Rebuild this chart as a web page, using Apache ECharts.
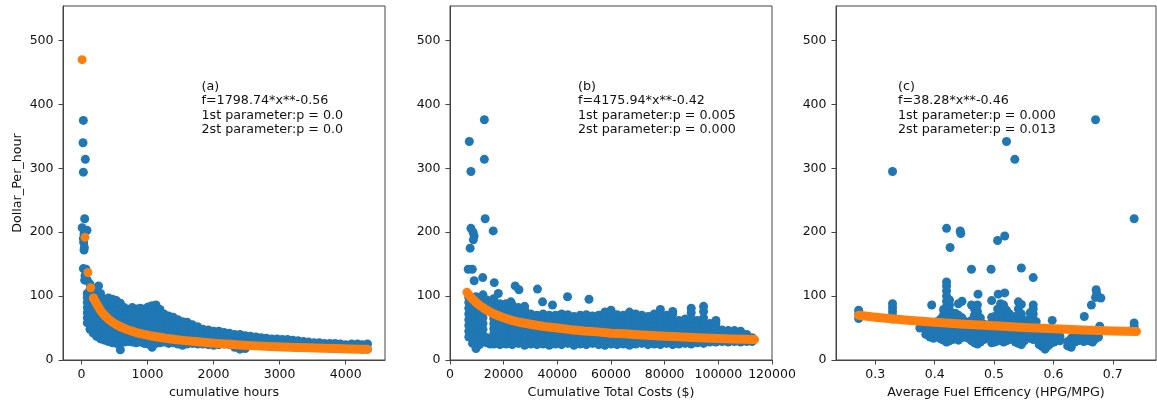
<!DOCTYPE html>
<html>
<head>
<meta charset="utf-8">
<script src="https://cdn.jsdelivr.net/npm/echarts/dist/echarts.min.js"></script>
<style>
html,body{margin:0;padding:0;background:#fff;}
#main{width:1157px;height:406px;}
</style>
</head>
<body>
<div id="main"></div>
<script>
// ---- data ----
var yTicks = [0, 100, 200, 300, 400, 500];
var hoursTicks = [0, 1000, 2000, 3000, 4000];
var costTicks = [0, 20000, 40000, 60000, 80000, 100000, 120000];
var fuelTicks = [0.3, 0.4, 0.5, 0.6, 0.7];

var panelNames = ['cumulative hours', 'Cumulative Total Costs ($)', 'Average Fuel Efficency (HPG/MPG)'];
var yName = 'Dollar_Per_hour';

var notesA = ['(a)', 'f=1798.74*x**-0.56', '1st parameter:p = 0.0', '2st parameter:p = 0.0'];
var notesB = ['(b)', 'f=4175.94*x**-0.42', '1st parameter:p = 0.005', '2st parameter:p = 0.000'];
var notesC = ['(c)', 'f=38.28*x**-0.46', '1st parameter:p = 0.000', '2st parameter:p = 0.013'];

// panel (a): cumulative hours vs dollar per hour
var hoursOutliers = [[30,375],[25,340],[60,314],[30,294],[50,221],[12,207],[85,203],[40,197],[30,190],[35,184],
  [45,176],[40,172],[30,143],[70,142],[55,132],[50,125],[90,125],[130,119],[260,116]];
// [x, [y values in that column]]
var hoursCols = [
  [90,[58,66,74,82,90,98,104]],
  [130,[48,56,64,72,80,88,96,104,110]],
  [180,[42,50,58,66,74,82,90,98,106,112]],
  [230,[37,45,53,61,69,77,85,93,101,108]],
  [290,[33,41,49,57,65,73,81,89,97,104]],
  [350,[31,39,47,55,63,71,79,87,95]],
  [410,[29,37,45,53,61,69,77,85,93,97]],
  [470,[27,35,43,51,59,67,75,83,91,95]],
  [530,[26,34,42,50,58,66,74,82,90,93]],
  [590,[16,27,35,43,51,59,67,75,83,89]],
  [650,[28,36,44,52,60,68,76,82]],
  [710,[29,37,45,53,61,69,76,79]],
  [770,[28,36,44,52,60,68,76,82]],
  [830,[27,35,43,51,59,67,75,80]],
  [890,[28,36,44,52,60,68,75,81]],
  [950,[26,34,42,50,58,66,74,80]],
  [1010,[25,33,41,49,57,65,73,80,83]],
  [1070,[20,29,37,45,53,61,69,77,85]],
  [1130,[26,34,42,50,58,66,74,81,86]],
  [1190,[27,35,43,51,59,67,74,79]],
  [1250,[28,36,44,52,60,67,72]],
  [1320,[26,34,42,50,58,64,69]],
  [1390,[27,35,43,51,58,64,67]],
  [1460,[25,33,41,49,56,63]],
  [1530,[23,31,39,47,54,60]],
  [1600,[25,33,41,49,55,59]],
  [1680,[26,34,42,49,55]],
  [1760,[25,33,41,47,52]],
  [1840,[25,33,41,48]],
  [1920,[24,32,40,47]],
  [2000,[23,31,38,45]],
  [2080,[24,32,39,45]],
  [2160,[25,33,40,43]],
  [2240,[24,32,38,42]],
  [2320,[20,28,35,40]],
  [2400,[17,25,33,40]],
  [2480,[18,26,33,38]],
  [2560,[25,32,37]],
  [2640,[24,31,36]],
  [2720,[24,30,35]],
  [2800,[23,29,34]],
  [2880,[23,29,33]],
  [2960,[22,28,33]],
  [3040,[22,28,32]],
  [3120,[22,27,32]],
  [3200,[21,26,31]],
  [3280,[21,26,30]],
  [3360,[21,25,29]],
  [3440,[20,25,28]],
  [3520,[20,24,27]],
  [3600,[20,24,27]],
  [3680,[20,24,26]],
  [3760,[19,23,26]],
  [3840,[19,23,26]],
  [3920,[19,25]],
  [4000,[18,24]],
  [4090,[18,25]],
  [4180,[18,25]],
  [4250,[17,24]],
  [4330,[17,25]]
];
var hoursFitDots = [[11,470],[54,192],[99,137],[141,113],[184,97]];
var hoursFitLine = [[184,97],[220,90],[260,83],[300,76],[350,70],[400,65],[460,60],[520,56],[590,52],[660,49],
  [740,46],[830,43],[930,40.5],[1040,38],[1160,36],[1280,34],[1420,32],[1570,30.3],[1720,28.8],[1880,27.3],
  [2050,26],[2250,24.6],[2450,23.2],[2650,22.1],[2850,21.1],[3050,20.3],[3250,19.6],[3450,19],[3650,18.4],
  [3850,17.9],[4050,17.4],[4250,16.9],[4330,16.7]];

// panel (b): cumulative total costs vs dollar per hour
var costOutliers = [[7200,342],[12800,376],[12800,314],[7800,295],[13100,221],[16100,202],[7800,206],[8600,200],
  [9000,194],[8700,188],[7500,175],[6800,142],[8300,142],[12200,129],[9000,124],[16500,121],[24300,116],
  [25700,110],[32600,111],[18000,104],[43800,99],[51800,95],[34500,91],[22700,91],[38200,86]];
var costCols = [
  [7000,[36,45,54,63,72,81,90,98]],
  [8400,[26,35,44,53,62,71,80,89,97]],
  [9700,[18,27,36,45,54,63,72,81,90,99]],
  [11000,[24,33,42,51,60,69,78,87,95]],
  [12300,[30,39,48,57,66,75,84,93,102]],
  [13700,[27,35,86,94]],
  [15000,[25,33]],
  [16300,[25,33,41,49,57,65,73,81,89,96]],
  [18600,[24,32,40,48,56,64,72,80,88]],
  [20900,[25,33,41,49,57,65,73,81,88]],
  [23200,[24,32,40,48,56,64,72,80,86]],
  [25500,[26,34,42,50,58,66,74,82]],
  [27800,[23,31,39,47,55,63,71,79,84]],
  [30100,[25,33,41,49,57,65,72]],
  [32400,[24,32,40,48,56,64,70]],
  [34700,[25,33,41,49,57,65,72]],
  [37000,[23,31,39,47,55,63,70]],
  [39300,[25,33,41,49,57,65,70]],
  [41600,[24,32,40,48,56,64,72]],
  [43900,[26,34,42,50,58,66,71]],
  [46200,[23,31,39,47,55,63,68]],
  [48500,[25,33,41,49,57,65,70]],
  [50800,[24,32,40,48,56,64,71]],
  [53100,[26,34,42,50,58,66,69]],
  [55400,[24,32,40,48,56,64,70]],
  [57700,[23,31,39,47,55,63,71,75]],
  [60000,[25,33,41,49,57,65,73,78]],
  [62300,[24,32,40,48,56,64,71]],
  [64600,[25,33,41,49,57,65,70]],
  [66900,[23,31,39,47,55,63,71,75]],
  [69200,[25,33,41,49,57,65,72]],
  [71500,[26,34,42,50,58,66,70]],
  [73800,[24,32,40,48,56,64,68]],
  [76100,[25,33,41,49,57,65,72]],
  [78400,[24,32,40,48,56,64,72,79]],
  [80700,[26,34,42,50,58,66,70]],
  [83000,[24,32,40,48,56,64,72,76]],
  [85300,[25,33,41,49,57,62]],
  [87600,[26,34,42,50,58,64]],
  [89900,[25,33,41,49,57,65,74,81]],
  [92200,[27,35,43,51,58,62]],
  [94500,[26,34,42,50,58,66,76,84]],
  [96800,[28,35,43,51,57]],
  [99100,[28,34,42,50,57,62]],
  [101400,[29,35,43,47]],
  [103700,[28,34,41,46]],
  [106000,[29,35,42,46]],
  [108300,[28,34,41,45]],
  [110600,[29,34,40]],
  [112600,[29,35]]
];
var costFitLine = [[6300,106],[7000,102],[8000,97],[9000,93],[10000,89],[11500,84],[13000,80],[15000,75],
  [17500,70],[20000,66],[23000,62],[26000,59],[30000,56],[35000,52.5],[40000,50],[45000,47.5],[50000,45.5],
  [55000,44],[60000,42],[65000,41],[70000,39.5],[75000,38.3],[80000,37.2],[85000,36.2],[90000,35.3],
  [95000,34.5],[100000,33.7],[105000,33],[110000,32.3],[113500,32]];

// panel (c): average fuel efficiency vs dollar per hour
var fuelOutliers = [[0.329,295],[0.521,342],[0.535,314],[0.671,376],[0.736,221],[0.420,206],[0.443,202],
  [0.444,198],[0.426,176],[0.506,187],[0.518,194],[0.462,142],[0.495,142],[0.546,144],[0.566,129],[0.395,86],
  [0.473,103],[0.507,103],[0.518,105],[0.598,62],[0.652,68],[0.664,86],[0.671,98],[0.673,104],[0.672,110],
  [0.680,97],[0.678,53]];
var fuelCols = [
  [0.272,[65,72,78]],
  [0.329,[64,70,76,82,88]],
  [0.375,[50]],
  [0.385,[40,48,56]],
  [0.392,[36,44,52]],
  [0.398,[34,42,50]],
  [0.404,[38,46,54,60]],
  [0.410,[33,41,49,57,64]],
  [0.415,[31,39,47,55,63,71,79]],
  [0.420,[28,36,44,52,60,68,76,84,92,100,108,116,122]],
  [0.425,[30,38,46,54,62,70,78,86,94]],
  [0.430,[32,40,48,56,64,72]],
  [0.435,[34,42,50,58,66,73]],
  [0.440,[31,39,47,55,63,70,88]],
  [0.446,[35,43,51,59,66,92]],
  [0.452,[36,44,52,60]],
  [0.457,[34,42,50,58]],
  [0.462,[30,38,46,54,62,86]],
  [0.467,[27,35,43,51,59,70,80]],
  [0.472,[25,33,41,49,57,65,76,86]],
  [0.477,[28,36,44,52,60,66]],
  [0.483,[32,40,48,56]],
  [0.490,[38,46,54]],
  [0.496,[27,35,43,51,59,67,93]],
  [0.501,[28,36,44,52,60,68]],
  [0.506,[30,38,46,54,62,70,80]],
  [0.511,[33,41,49,57,65,75,88]],
  [0.516,[28,36,44,52,60,68,86]],
  [0.521,[30,38,46,54,62,70,78]],
  [0.526,[32,40,48,56,64,72]],
  [0.531,[35,43,51,59,66]],
  [0.536,[28,36,44,52,60,68]],
  [0.541,[26,34,42,50,58,66,80,91]],
  [0.546,[24,32,40,48,56,64,72,87]],
  [0.551,[30,38,46,54,62]],
  [0.556,[36,44,52,60]],
  [0.561,[34,42,50,58,66,74]],
  [0.566,[32,40,48,56,64,72,80,86]],
  [0.571,[36,44,52,60]],
  [0.576,[24,31,38,44]],
  [0.581,[21,28,35,42]],
  [0.586,[17,24,31,38]],
  [0.591,[22,30,37]],
  [0.596,[26,33,40]],
  [0.601,[28,35,42]],
  [0.606,[31,38]],
  [0.611,[30,37]],
  [0.624,[22,29]],
  [0.630,[20,27,34]],
  [0.636,[28,35]],
  [0.641,[30,37]],
  [0.646,[33,40]],
  [0.651,[29,36]],
  [0.656,[31,38]],
  [0.661,[30,37]],
  [0.666,[28,35]],
  [0.671,[33,40]],
  [0.676,[36,43]],
  [0.736,[46,52,58]]
];
var fuelFitLine = [[0.272,70],[0.30,67],[0.35,62.5],[0.40,59],[0.45,56],[0.50,53.5],[0.55,51],[0.60,49],
  [0.65,47],[0.70,45.5],[0.74,44.5]];

// ---- build ----
var BLUE = '#1f77b4', ORANGE = '#ff7f0e', INK = '#111', SPINE = '#444';
var FONT = 'DejaVu Sans';
var DOT = 9;

function flat(cols, extra){
	var out = extra.slice();
	cols.forEach(function(c){
		c[1].forEach(function(y){ out.push([c[0], y]); });
	});
	return out;
}

var grids = [
	{left:63, top:6, width:322, height:354},
	{left:450, top:6, width:322, height:354},
	{left:836, top:6, width:320, height:354}
];
grids.forEach(function(g){
	g.show = true; g.borderColor = SPINE; g.borderWidth = 1;
	g.backgroundColor = 'transparent'; g.containLabel = false; g.outerBoundsMode = 'none';
});

function xAx(i, min, max, ticks){
	return {
		type:'value', gridIndex:i, min:min, max:max,
		name: panelNames[i], nameLocation:'middle', nameGap:26,
		nameTextStyle:{color:INK, fontSize:12.7, fontFamily:FONT},
		axisLine:{show:true, onZero:false, lineStyle:{color:SPINE, width:1}},
		axisTick:{show:true, length:4.5, customValues:ticks, lineStyle:{color:SPINE}},
		axisLabel:{show:true, customValues:ticks, margin:8, color:INK, fontSize:12.5, fontFamily:FONT,
			formatter:function(v){ return String(v); }},
		splitLine:{show:false}
	};
}
function yAx(i){
	var ax = {
		type:'value', gridIndex:i, min:0, max:554,
		axisLine:{show:true, onZero:false, lineStyle:{color:SPINE, width:1}},
		axisTick:{show:true, length:4.5, customValues:yTicks, lineStyle:{color:SPINE}},
		axisLabel:{show:true, customValues:yTicks, margin:9.5, color:INK, fontSize:12.5, fontFamily:FONT},
		splitLine:{show:false}
	};
	if(i === 0){
		ax.name = yName; ax.nameLocation = 'middle'; ax.nameGap = 39;
		ax.nameTextStyle = {color:INK, fontSize:12.7, fontFamily:FONT};
	}
	return ax;
}

function dots(i, data, color){
	return {type:'scatter', xAxisIndex:i, yAxisIndex:i, data:data, symbol:'circle', symbolSize:DOT,
		itemStyle:{color:color, opacity:1}, silent:true, animation:false};
}
function band(i, data){
	return {type:'line', xAxisIndex:i, yAxisIndex:i, data:data, symbol:'none', showSymbol:false,
		lineStyle:{color:ORANGE, width:DOT, cap:'round', join:'round'}, silent:true, animation:false};
}
function note(left, lines){
	return {type:'text', left:left, top:79, silent:true,
		style:{text:lines.join('\n'), fill:INK, fontSize:12.7, fontFamily:FONT, lineHeight:14.6}};
}

var option = {
	animation:false,
	backgroundColor:'#fff',
	grid: grids,
	xAxis: [xAx(0, -278, 4595, hoursTicks), xAx(1, 0, 120000, costTicks), xAx(2, 0.2338, 0.7728, fuelTicks)],
	yAxis: [yAx(0), yAx(1), yAx(2)],
	series: [
		dots(0, flat(hoursCols, hoursOutliers), BLUE),
		band(0, hoursFitLine),
		dots(0, hoursFitDots, ORANGE),
		dots(1, flat(costCols, costOutliers), BLUE),
		band(1, costFitLine),
		dots(2, flat(fuelCols, fuelOutliers), BLUE),
		band(2, fuelFitLine)
	],
	graphic: [note(201.5, notesA), note(578, notesB), note(898, notesC)]
};

var myChart = echarts.init(document.getElementById('main'), null, {renderer:'canvas'});
myChart.setOption(option);
</script>
</body>
</html>
